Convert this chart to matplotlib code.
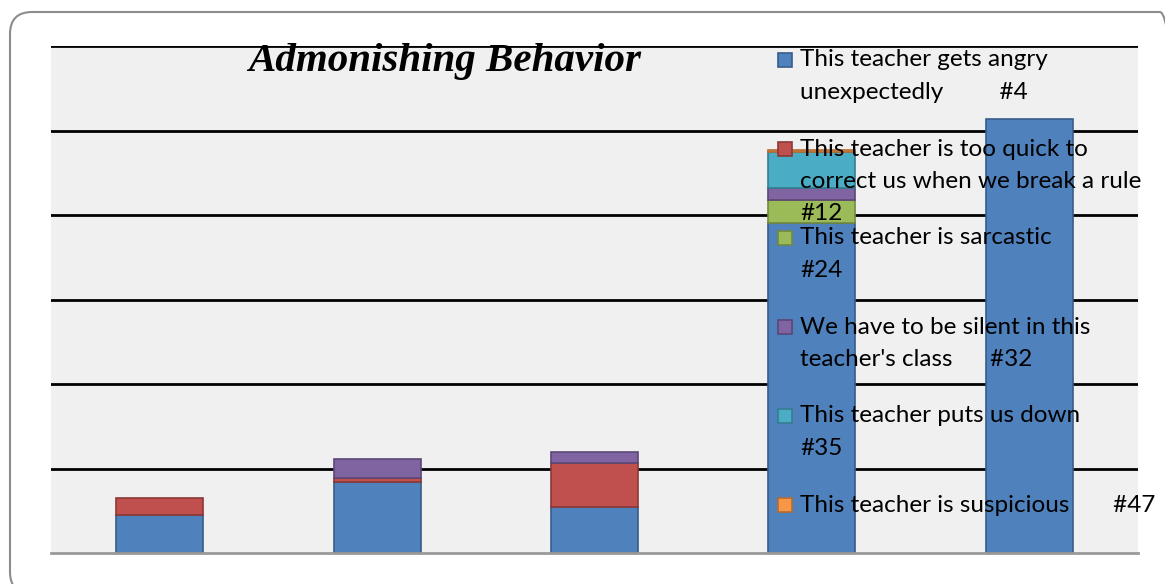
import matplotlib
matplotlib.use("Agg")
import matplotlib.pyplot as plt
from matplotlib.patches import FancyBboxPatch, Rectangle
import numpy as np

categories = ["1", "2", "3", "4", "5"]
angry = [4.5, 8.4, 5.4, 39.1, 51.4]
quick = [2.0, 0.5, 5.3, 0.0, 0.0]
sarcastic = [0.0, 0.0, 0.0, 2.7, 0.0]
silent = [0.0, 2.2, 1.3, 1.4, 0.0]
putsdown = [0.0, 0.0, 0.0, 4.2, 0.0]
suspicious = [0.0, 0.0, 0.0, 0.25, 0.0]

series_labels = [
    "This teacher gets angry\nunexpectedly         #4",
    "This teacher is too quick to\ncorrect us when we break a rule\n#12",
    "This teacher is sarcastic\n#24",
    "We have to be silent in this\nteacher's class      #32",
    "This teacher puts us down\n#35",
    "This teacher is suspicious       #47",
]
title = "Admonishing Behavior"

series = [angry, quick, sarcastic, silent, putsdown, suspicious]
faces = ["#4f81bd", "#c0504d", "#9bbb59", "#8064a2", "#4bacc6", "#f79646"]
edges = ["#385d8a", "#8c3836", "#71893f", "#5c4776", "#357d91", "#b66d31"]

W, H = 1165, 584
fig = plt.figure(figsize=(W / 100, H / 100), dpi=100)
fig.patch.set_facecolor("white")

# rounded frame
frame = FancyBboxPatch((10 / W, -10 / H), 1172 / W, 582 / H,
                       boxstyle="round,pad=0,rounding_size=0.019",
                       transform=fig.transFigure, facecolor="none",
                       edgecolor="#8c8c8c", linewidth=1.5, mutation_aspect=W / H)
fig.patches.append(frame)

ax = fig.add_axes([51 / W, 31 / H, 1087 / W, 507 / H])
ax.set_facecolor("#f0f0f0")
x = np.arange(len(categories))
bottom = np.zeros(len(categories))
for vals, fc, ec in zip(series, faces, edges):
    v = np.array(vals)
    m = v > 0
    ax.bar(x[m], v[m], 0.4, bottom=bottom[m], color=fc, edgecolor=ec,
           linewidth=1.2, zorder=3)
    bottom += v

ax.set_xlim(-0.5, len(categories) - 0.5)
ax.set_ylim(0, 60)
ax.set_yticks([10, 20, 30, 40, 50, 60])
ax.yaxis.grid(True, color="black", linewidth=2, zorder=1)
ax.set_axisbelow(True)
ax.tick_params(left=False, bottom=False, labelleft=False, labelbottom=False)
for s in ["left", "right", "top"]:
    ax.spines[s].set_visible(False)
ax.spines["bottom"].set_color("#999999")
ax.spines["bottom"].set_linewidth(2)
ax.spines["bottom"].set_zorder(4)

fig.text(445 / W, 1 - 62 / H, title, fontsize=29.5, family="Liberation Serif",
         style="italic", weight="bold", ha="center", va="center", zorder=10)

# legend drawn manually
for k, (lab, fc, ec) in enumerate(zip(series_labels, faces, edges)):
    y0 = 60 + 89 * k
    fig.patches.append(Rectangle((778 / W, 1 - (y0 + 7) / H), 14 / W, 14 / H,
                                 transform=fig.transFigure, facecolor=fc,
                                 edgecolor=ec, linewidth=1.2, zorder=10))
    for i, line in enumerate(lab.split("\n")):
        fig.text(800 / W, 1 - (y0 + 32.5 * i) / H, line, fontsize=17.5,
                 family="Lato", ha="left", va="center", zorder=10)

fig.savefig("out.png", dpi=100)
